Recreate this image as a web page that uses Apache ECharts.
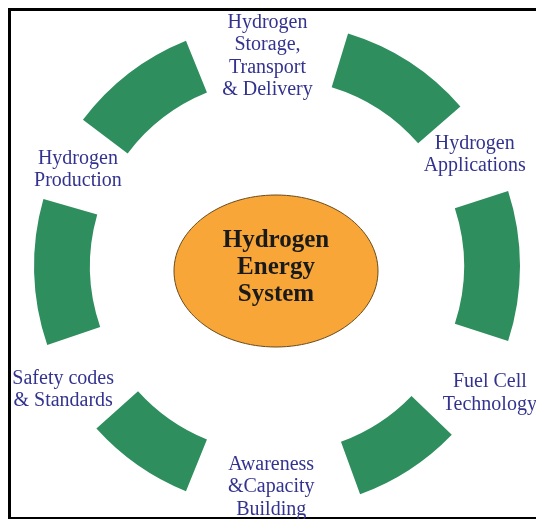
<!DOCTYPE html>
<html>
<head>
<meta charset="utf-8">
<script src="https://cdn.jsdelivr.net/npm/echarts@6/dist/echarts.min.js"></script>
<style>
  html, body { margin: 0; padding: 0; background: #fff; }
  #chart { width: 536px; height: 519px; }
</style>
</head>
<body>
<div id="chart"></div>
<script>
// ring pieces, clockwise from the upper right one (angles in degrees)
const segmentSpans = [32, 36, 26, 26, 35, 31]
// gaps after each piece, each one holds a label
const gapSpans = [23, 26, 42, 23, 21, 39]
const gapLabels = [
  'Hydrogen\nApplications',
  'Fuel Cell\nTechnology',
  'Awareness\n&Capacity\nBuilding',
  'Safety codes\n& Standards',
  'Hydrogen\nProduction',
  'Hydrogen\nStorage,\nTransport\n& Delivery'
]
const centerTitle = 'Hydrogen\nEnergy\nSystem'

// small nudges so each label sits where it does in the figure
const labelOffsets = [[8, -4], [26, 15], [-2, 3], [-26, 13], [-4, 1], [0, 8]]

const chart = echarts.init(document.getElementById('chart'))

const pieData = []
segmentSpans.forEach((span, i) => {
  pieData.push({
    value: span,
    name: 'seg' + i,
    itemStyle: { color: '#2e8e5d' },
    label: { show: false }
  })
  pieData.push({
    value: gapSpans[i],
    name: gapLabels[i],
    itemStyle: { color: 'rgba(0,0,0,0)' },
    label: { show: true, offset: labelOffsets[i] }
  })
})

chart.setOption({
  animation: false,
  graphic: [
    // frame
    { type: 'rect', shape: { x: 8, y: 8, width: 528, height: 3 }, style: { fill: '#000' } },
    { type: 'rect', shape: { x: 8, y: 8, width: 3, height: 511 }, style: { fill: '#000' } },
    { type: 'rect', shape: { x: 8, y: 517, width: 528, height: 2 }, style: { fill: '#000' } },
    // centre
    {
      type: 'ellipse',
      shape: { cx: 276, cy: 271, rx: 102, ry: 76 },
      style: { fill: '#f7a637', stroke: '#6b4a1a', lineWidth: 1 }
    },
    {
      type: 'text',
      x: 276,
      y: 268,
      style: {
        text: centerTitle,
        font: 'bold 25px "Liberation Serif", serif',
        fill: '#1a1a1a',
        align: 'center',
        verticalAlign: 'middle',
        lineHeight: 27
      }
    }
  ],
  series: [
    {
      type: 'pie',
      silent: true,
      center: [277, 266],
      radius: [187, 243],
      startAngle: 73,
      clockwise: true,
      avoidLabelOverlap: false,
      label: {
        position: 'inside',
        formatter: '{b}',
        color: '#33338f',
        fontFamily: 'Liberation Serif',
        fontSize: 20,
        lineHeight: 22.5,
        textBorderWidth: 0,
        align: 'center'
      },
      labelLine: { show: false },
      emphasis: { disabled: true },
      data: pieData
    }
  ]
})
</script>
</body>
</html>
